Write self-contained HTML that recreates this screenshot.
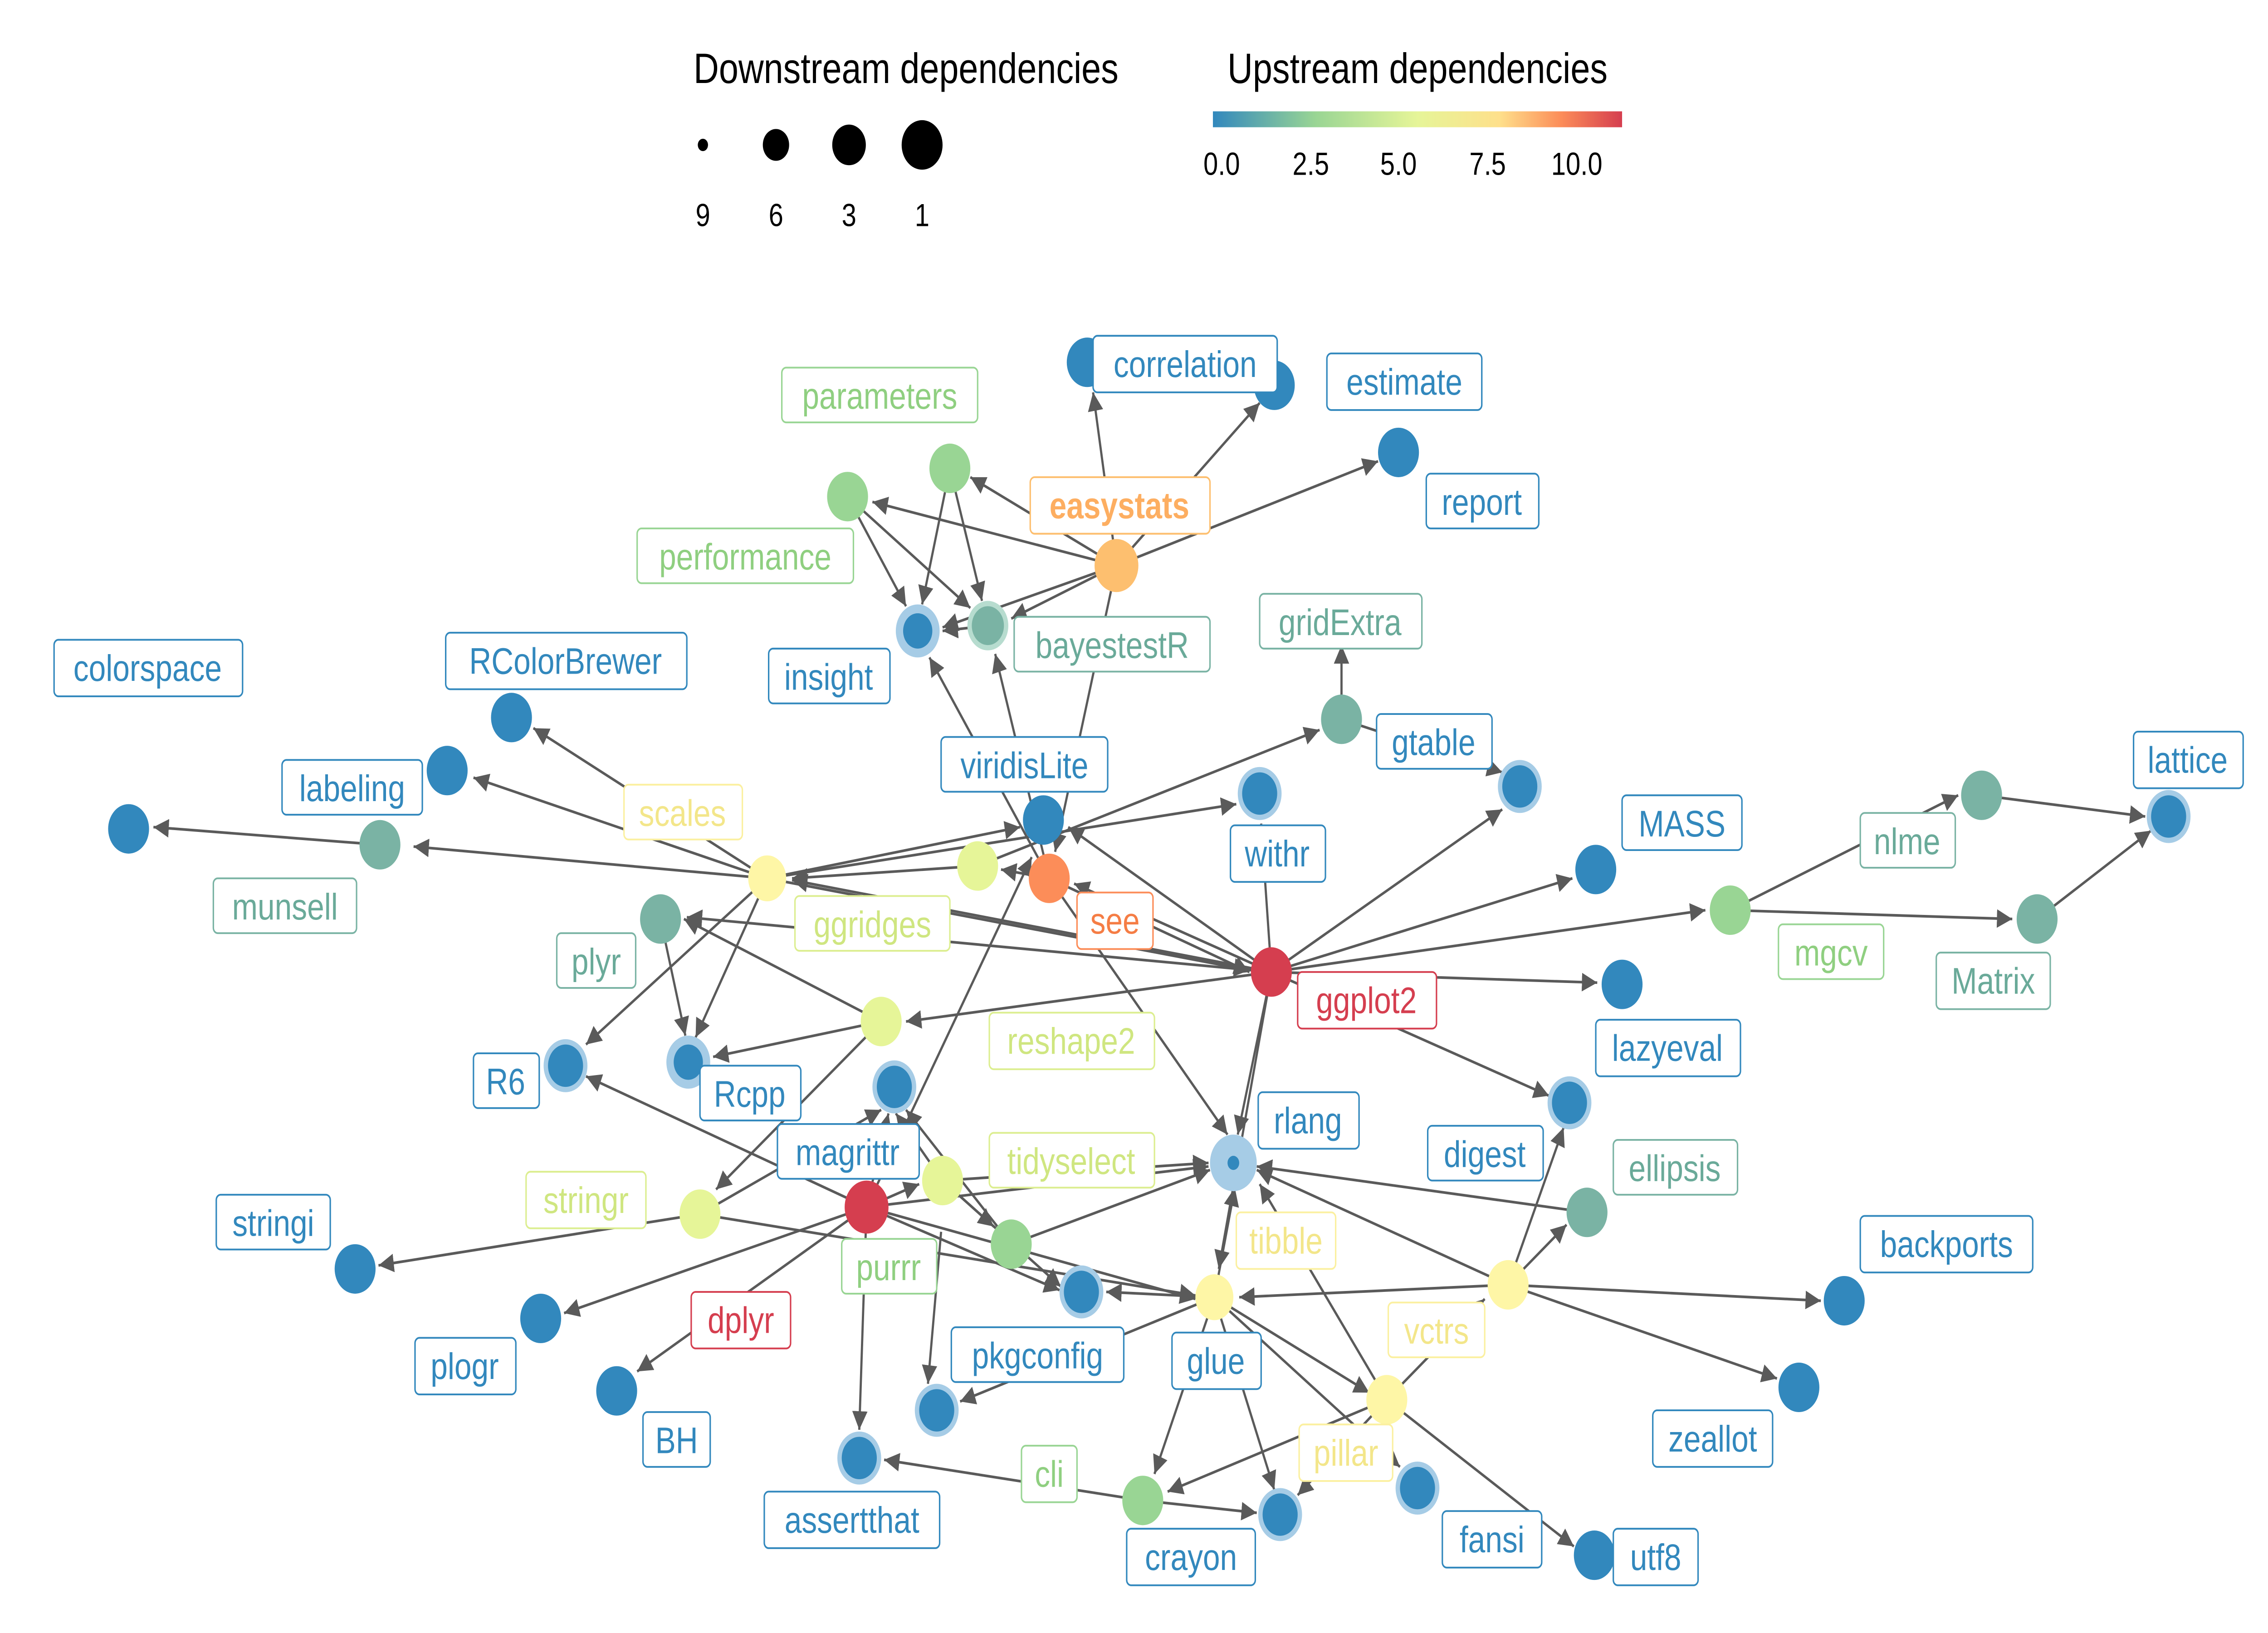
<!DOCTYPE html>
<html><head><meta charset="utf-8"><style>
html,body{margin:0;padding:0;background:#fff;width:100%;height:100%;overflow:hidden}
svg{display:block;width:100vw;height:100vh;position:absolute;left:0;top:0}
text{font-family:"Liberation Sans","DejaVu Sans",sans-serif}
.e{stroke:#5a5a5a;stroke-width:1.5;fill:none;marker-end:url(#a)}
.lb rect{fill:#fff;stroke-width:1}
.lb text{font-size:21px;text-anchor:middle;dominant-baseline:central}
</style></head><body>
<svg viewBox="0 0 1552 924" preserveAspectRatio="none" xmlns="http://www.w3.org/2000/svg">
<defs>
<marker id="a" viewBox="0 0 10 10" refX="10" refY="5" markerWidth="7" markerHeight="7" orient="auto-start-reverse"><path d="M0,0 L10,5 L0,10 z" fill="#5a5a5a"/></marker>
<linearGradient id="g" x1="0" x2="1"><stop offset="0" stop-color="#3288bd"/><stop offset="0.25" stop-color="#99d594"/><stop offset="0.5" stop-color="#e6f598"/><stop offset="0.7" stop-color="#fee08b"/><stop offset="0.85" stop-color="#fc8d59"/><stop offset="1" stop-color="#d53e4f"/></linearGradient>
</defs>
<text x="620" y="47" font-size="24" text-anchor="middle">Downstream dependencies</text>
<circle cx="481" cy="82" r="3.5" fill="#000"/><circle cx="531" cy="82" r="9" fill="#000"/><circle cx="581" cy="82" r="11.5" fill="#000"/><circle cx="631" cy="82" r="14" fill="#000"/>
<g font-size="18" text-anchor="middle"><text x="481" y="128">9</text><text x="531" y="128">6</text><text x="581" y="128">3</text><text x="631" y="128">1</text></g>
<text x="970" y="47" font-size="24" text-anchor="middle">Upstream dependencies</text>
<rect x="830" y="63" width="280" height="9" fill="url(#g)"/>
<g font-size="18" text-anchor="middle"><text x="836" y="99">0.0</text><text x="897" y="99">2.5</text><text x="957" y="99">5.0</text><text x="1018" y="99">7.5</text><text x="1079" y="99">10.0</text></g>
<g>
<path class="e" d="M764,320 L748,222"/>
<path class="e" d="M764,320 L862,228"/>
<path class="e" d="M764,320 L943,261"/>
<path class="e" d="M764,320 L664,270"/>
<path class="e" d="M764,320 L597,284"/>
<path class="e" d="M764,320 L645,355"/>
<path class="e" d="M764,320 L692,350"/>
<path class="e" d="M764,320 L722,482"/>
<path class="e" d="M650,265 L631,342"/>
<path class="e" d="M650,265 L672,340"/>
<path class="e" d="M580,281 L620,343"/>
<path class="e" d="M580,281 L664,344"/>
<path class="e" d="M676,354 L645,357"/>
<path class="e" d="M718,497 L636,372"/>
<path class="e" d="M718,497 L681,370"/>
<path class="e" d="M718,497 L685,492"/>
<path class="e" d="M718,497 L855,550"/>
<path class="e" d="M718,497 L840,642"/>
<path class="e" d="M260,478 L105,468"/>
<path class="e" d="M525,497 L283,479"/>
<path class="e" d="M525,497 L324,440"/>
<path class="e" d="M525,497 L365,412"/>
<path class="e" d="M525,497 L401,591"/>
<path class="e" d="M525,497 L476,587"/>
<path class="e" d="M525,497 L698,468"/>
<path class="e" d="M525,497 L846,455"/>
<path class="e" d="M525,497 L855,549"/>
<path class="e" d="M669,490 L542,497"/>
<path class="e" d="M669,490 L903,413"/>
<path class="e" d="M870,550 L542,498"/>
<path class="e" d="M870,550 L731,468"/>
<path class="e" d="M870,550 L863,466"/>
<path class="e" d="M870,550 L1028,458"/>
<path class="e" d="M870,550 L1076,497"/>
<path class="e" d="M870,550 L1167,515"/>
<path class="e" d="M870,550 L1093,556"/>
<path class="e" d="M870,550 L1060,620"/>
<path class="e" d="M870,550 L847,642"/>
<path class="e" d="M870,550 L834,718"/>
<path class="e" d="M870,550 L620,578"/>
<path class="e" d="M870,550 L470,519"/>
<path class="e" d="M870,550 L735,500"/>
<path class="e" d="M918,407 L918,365"/>
<path class="e" d="M918,407 L1028,437"/>
<path class="e" d="M1184,515 L1340,450"/>
<path class="e" d="M1184,515 L1377,520"/>
<path class="e" d="M1356,450 L1468,462"/>
<path class="e" d="M1394,520 L1472,470"/>
<path class="e" d="M452,520 L469,586"/>
<path class="e" d="M603,578 L488,598"/>
<path class="e" d="M603,578 L490,673"/>
<path class="e" d="M603,578 L468,520"/>
<path class="e" d="M593,683 L401,609"/>
<path class="e" d="M593,683 L436,776"/>
<path class="e" d="M593,683 L386,743"/>
<path class="e" d="M593,683 L706,485"/>
<path class="e" d="M593,683 L608,630"/>
<path class="e" d="M593,683 L629,670"/>
<path class="e" d="M593,683 L725,730"/>
<path class="e" d="M593,683 L818,735"/>
<path class="e" d="M593,683 L827,660"/>
<path class="e" d="M593,683 L588,809"/>
<path class="e" d="M479,687 L259,716"/>
<path class="e" d="M479,687 L603,628"/>
<path class="e" d="M479,687 L818,733"/>
<path class="e" d="M645,668 L827,658"/>
<path class="e" d="M645,668 L680,694"/>
<path class="e" d="M645,668 L613,630"/>
<path class="e" d="M645,668 L726,728"/>
<path class="e" d="M692,704 L828,662"/>
<path class="e" d="M692,704 L620,628"/>
<path class="e" d="M644,697 L635,783"/>
<path class="e" d="M831,734 L845,672"/>
<path class="e" d="M831,734 L757,731"/>
<path class="e" d="M831,734 L937,788"/>
<path class="e" d="M831,734 L790,834"/>
<path class="e" d="M831,734 L872,843"/>
<path class="e" d="M831,734 L958,830"/>
<path class="e" d="M831,734 L657,793"/>
<path class="e" d="M1032,727 L860,662"/>
<path class="e" d="M1032,727 L1072,693"/>
<path class="e" d="M1032,727 L1246,736"/>
<path class="e" d="M1032,727 L1216,780"/>
<path class="e" d="M1032,727 L1070,638"/>
<path class="e" d="M1032,727 L848,734"/>
<path class="e" d="M949,792 L1016,735"/>
<path class="e" d="M949,792 L799,844"/>
<path class="e" d="M949,792 L888,846"/>
<path class="e" d="M949,792 L1077,875"/>
<path class="e" d="M949,792 L862,670"/>
<path class="e" d="M782,849 L605,826"/>
<path class="e" d="M782,849 L860,856"/>
<path class="e" d="M1086,686 L860,660"/>
</g>
<g stroke="none">
<circle cx="744" cy="205" r="14" fill="#3288bd"/>
<circle cx="872" cy="218" r="14" fill="#3288bd"/>
<circle cx="957" cy="256" r="14" fill="#3288bd"/>
<circle cx="650" cy="265" r="14" fill="#99d594"/>
<circle cx="764" cy="320" r="15" fill="#fdbf6f"/>
<circle cx="580" cy="281" r="14" fill="#99d594"/>
<circle cx="628" cy="357" r="15" fill="#a6cce6"/><circle cx="628" cy="357" r="10" fill="#3288bd"/>
<circle cx="676" cy="354" r="14" fill="#b7dccf"/><circle cx="676" cy="354" r="11" fill="#7ab3a4"/>
<circle cx="918" cy="407" r="14" fill="#7ab3a4"/>
<circle cx="1040" cy="445" r="15" fill="#a6cce6"/><circle cx="1040" cy="445" r="12" fill="#3288bd"/>
<circle cx="88" cy="469" r="14" fill="#3288bd"/>
<circle cx="350" cy="406" r="14" fill="#3288bd"/>
<circle cx="306" cy="436" r="14" fill="#3288bd"/>
<circle cx="260" cy="478" r="14" fill="#7ab3a4"/>
<circle cx="525" cy="497" r="13" fill="#fef6a6"/>
<circle cx="714" cy="464" r="14" fill="#3288bd"/>
<circle cx="862" cy="449" r="15" fill="#a6cce6"/><circle cx="862" cy="449" r="12" fill="#3288bd"/>
<circle cx="669" cy="490" r="14" fill="#e6f598"/>
<circle cx="718" cy="497" r="14" fill="#fc8d59"/>
<circle cx="452" cy="520" r="14" fill="#7ab3a4"/>
<circle cx="1092" cy="492" r="14" fill="#3288bd"/>
<circle cx="1356" cy="450" r="14" fill="#7ab3a4"/>
<circle cx="1484" cy="462" r="15" fill="#a6cce6"/><circle cx="1484" cy="462" r="12" fill="#3288bd"/>
<circle cx="1184" cy="515" r="14" fill="#99d594"/>
<circle cx="1394" cy="520" r="14" fill="#7ab3a4"/>
<circle cx="870" cy="550" r="14" fill="#d53e4f"/>
<circle cx="1110" cy="557" r="14" fill="#3288bd"/>
<circle cx="603" cy="578" r="14" fill="#e6f598"/>
<circle cx="387" cy="603" r="15" fill="#a6cce6"/><circle cx="387" cy="603" r="12" fill="#3288bd"/>
<circle cx="471" cy="601" r="15" fill="#a6cce6"/><circle cx="471" cy="601" r="10" fill="#3288bd"/>
<circle cx="612" cy="615" r="15" fill="#a6cce6"/><circle cx="612" cy="615" r="12" fill="#3288bd"/>
<circle cx="844" cy="658" r="16" fill="#a6cce6"/><circle cx="844" cy="658" r="4" fill="#3288bd"/>
<circle cx="1074" cy="624" r="15" fill="#a6cce6"/><circle cx="1074" cy="624" r="12" fill="#3288bd"/>
<circle cx="1086" cy="686" r="14" fill="#7ab3a4"/>
<circle cx="645" cy="668" r="14" fill="#e6f598"/>
<circle cx="479" cy="687" r="14" fill="#e6f598"/>
<circle cx="593" cy="683" r="15" fill="#d53e4f"/>
<circle cx="243" cy="718" r="14" fill="#3288bd"/>
<circle cx="692" cy="704" r="14" fill="#99d594"/>
<circle cx="740" cy="731" r="15" fill="#a6cce6"/><circle cx="740" cy="731" r="12" fill="#3288bd"/>
<circle cx="831" cy="734" r="13" fill="#fef6a6"/>
<circle cx="1032" cy="727" r="14" fill="#fef6a6"/>
<circle cx="1262" cy="736" r="14" fill="#3288bd"/>
<circle cx="370" cy="746" r="14" fill="#3288bd"/>
<circle cx="422" cy="787" r="14" fill="#3288bd"/>
<circle cx="1231" cy="785" r="14" fill="#3288bd"/>
<circle cx="949" cy="792" r="14" fill="#fef6a6"/>
<circle cx="641" cy="798" r="15" fill="#a6cce6"/><circle cx="641" cy="798" r="12" fill="#3288bd"/>
<circle cx="588" cy="825" r="15" fill="#a6cce6"/><circle cx="588" cy="825" r="12" fill="#3288bd"/>
<circle cx="782" cy="849" r="14" fill="#99d594"/>
<circle cx="876" cy="857" r="15" fill="#a6cce6"/><circle cx="876" cy="857" r="12" fill="#3288bd"/>
<circle cx="970" cy="842" r="15" fill="#a6cce6"/><circle cx="970" cy="842" r="12" fill="#3288bd"/>
<circle cx="1091" cy="880" r="14" fill="#3288bd"/>
</g>
<g class="lb">
<g stroke="#3288bd" fill="#3288bd">
<rect x="748" y="190" width="126" height="32" rx="3"/><text x="811" y="206" stroke="none">correlation</text>
<rect x="908" y="200" width="106" height="32" rx="3"/><text x="961" y="216" stroke="none">estimate</text>
<rect x="976" y="268" width="77" height="31" rx="3"/><text x="1014" y="284" stroke="none">report</text>
<rect x="526" y="367" width="83" height="31" rx="3"/><text x="567" y="383" stroke="none">insight</text>
<rect x="942" y="404" width="79" height="31" rx="3"/><text x="981" y="420" stroke="none">gtable</text>
<rect x="37" y="362" width="129" height="32" rx="3"/><text x="101" y="378" stroke="none">colorspace</text>
<rect x="305" y="358" width="165" height="32" rx="3"/><text x="387" y="374" stroke="none">RColorBrewer</text>
<rect x="193" y="430" width="96" height="31" rx="3"/><text x="241" y="446" stroke="none">labeling</text>
<rect x="644" y="417" width="114" height="31" rx="3"/><text x="701" y="433" stroke="none">viridisLite</text>
<rect x="842" y="467" width="65" height="32" rx="3"/><text x="874" y="483" stroke="none">withr</text>
<rect x="1110" y="450" width="82" height="31" rx="3"/><text x="1151" y="466" stroke="none">MASS</text>
<rect x="1460" y="414" width="75" height="32" rx="3"/><text x="1497" y="430" stroke="none">lattice</text>
<rect x="1092" y="577" width="99" height="32" rx="3"/><text x="1141" y="593" stroke="none">lazyeval</text>
<rect x="324" y="596" width="45" height="31" rx="3"/><text x="346" y="612" stroke="none">R6</text>
<rect x="479" y="603" width="69" height="31" rx="3"/><text x="513" y="619" stroke="none">Rcpp</text>
<rect x="532" y="636" width="97" height="31" rx="3"/><text x="580" y="652" stroke="none">magrittr</text>
<rect x="861" y="618" width="69" height="32" rx="3"/><text x="895" y="634" stroke="none">rlang</text>
<rect x="977" y="637" width="79" height="31" rx="3"/><text x="1016" y="653" stroke="none">digest</text>
<rect x="148" y="676" width="78" height="31" rx="3"/><text x="187" y="692" stroke="none">stringi</text>
<rect x="1273" y="688" width="118" height="32" rx="3"/><text x="1332" y="704" stroke="none">backports</text>
<rect x="651" y="751" width="118" height="31" rx="3"/><text x="710" y="767" stroke="none">pkgconfig</text>
<rect x="802" y="754" width="61" height="32" rx="3"/><text x="832" y="770" stroke="none">glue</text>
<rect x="284" y="757" width="69" height="32" rx="3"/><text x="318" y="773" stroke="none">plogr</text>
<rect x="440" y="799" width="46" height="31" rx="3"/><text x="463" y="815" stroke="none">BH</text>
<rect x="1131" y="798" width="82" height="32" rx="3"/><text x="1172" y="814" stroke="none">zeallot</text>
<rect x="523" y="844" width="120" height="32" rx="3"/><text x="583" y="860" stroke="none">assertthat</text>
<rect x="771" y="865" width="88" height="32" rx="3"/><text x="815" y="881" stroke="none">crayon</text>
<rect x="987" y="855" width="68" height="32" rx="3"/><text x="1021" y="871" stroke="none">fansi</text>
<rect x="1104" y="865" width="58" height="32" rx="3"/><text x="1133" y="881" stroke="none">utf8</text>
</g>
<g stroke="#99d594" fill="#8fcf80">
<rect x="535" y="208" width="134" height="31" rx="3"/><text x="602" y="224" stroke="none">parameters</text>
<rect x="436" y="299" width="148" height="31" rx="3"/><text x="510" y="315" stroke="none">performance</text>
<rect x="1217" y="523" width="72" height="31" rx="3"/><text x="1253" y="539" stroke="none">mgcv</text>
<rect x="576" y="701" width="65" height="31" rx="3"/><text x="608" y="717" stroke="none">purrr</text>
<rect x="699" y="818" width="38" height="32" rx="3"/><text x="718" y="834" stroke="none">cli</text>
</g>
<g stroke="#7ab3a4" fill="#6aaa99">
<rect x="694" y="349" width="134" height="31" rx="3"/><text x="761" y="365" stroke="none">bayestestR</text>
<rect x="862" y="336" width="111" height="31" rx="3"/><text x="917" y="352" stroke="none">gridExtra</text>
<rect x="146" y="497" width="98" height="31" rx="3"/><text x="195" y="513" stroke="none">munsell</text>
<rect x="381" y="528" width="54" height="31" rx="3"/><text x="408" y="544" stroke="none">plyr</text>
<rect x="1273" y="460" width="65" height="31" rx="3"/><text x="1305" y="476" stroke="none">nlme</text>
<rect x="1325" y="539" width="78" height="32" rx="3"/><text x="1364" y="555" stroke="none">Matrix</text>
<rect x="1104" y="645" width="85" height="31" rx="3"/><text x="1146" y="661" stroke="none">ellipsis</text>
</g>
<g stroke="#dcee90" fill="#cfe680">
<rect x="544" y="507" width="106" height="31" rx="3"/><text x="597" y="523" stroke="none">ggridges</text>
<rect x="677" y="573" width="113" height="32" rx="3"/><text x="733" y="589" stroke="none">reshape2</text>
<rect x="677" y="641" width="113" height="31" rx="3"/><text x="733" y="657" stroke="none">tidyselect</text>
<rect x="360" y="663" width="82" height="32" rx="3"/><text x="401" y="679" stroke="none">stringr</text>
</g>
<g stroke="#fbf0a0" fill="#f3e68a">
<rect x="427" y="444" width="81" height="31" rx="3"/><text x="467" y="460" stroke="none">scales</text>
<rect x="846" y="686" width="68" height="32" rx="3"/><text x="880" y="702" stroke="none">tibble</text>
<rect x="950" y="737" width="66" height="31" rx="3"/><text x="983" y="753" stroke="none">vctrs</text>
<rect x="889" y="806" width="64" height="32" rx="3"/><text x="921" y="822" stroke="none">pillar</text>
</g>
<g stroke="#fdbf6f" fill="#fdae61">
<rect x="705" y="270" width="123" height="32" rx="3"/><text x="766" y="286" stroke="none" font-weight="bold">easystats</text>
</g>
<g stroke="#fc8d59" fill="#f57d45">
<rect x="737" y="505" width="52" height="32" rx="3"/><text x="763" y="521" stroke="none">see</text>
</g>
<g stroke="#d53e4f" fill="#d53e4f">
<rect x="888" y="550" width="95" height="32" rx="3"/><text x="935" y="566" stroke="none">ggplot2</text>
<rect x="473" y="731" width="68" height="32" rx="3"/><text x="507" y="747" stroke="none">dplyr</text>
</g>
</g>
</svg>
</body></html>
